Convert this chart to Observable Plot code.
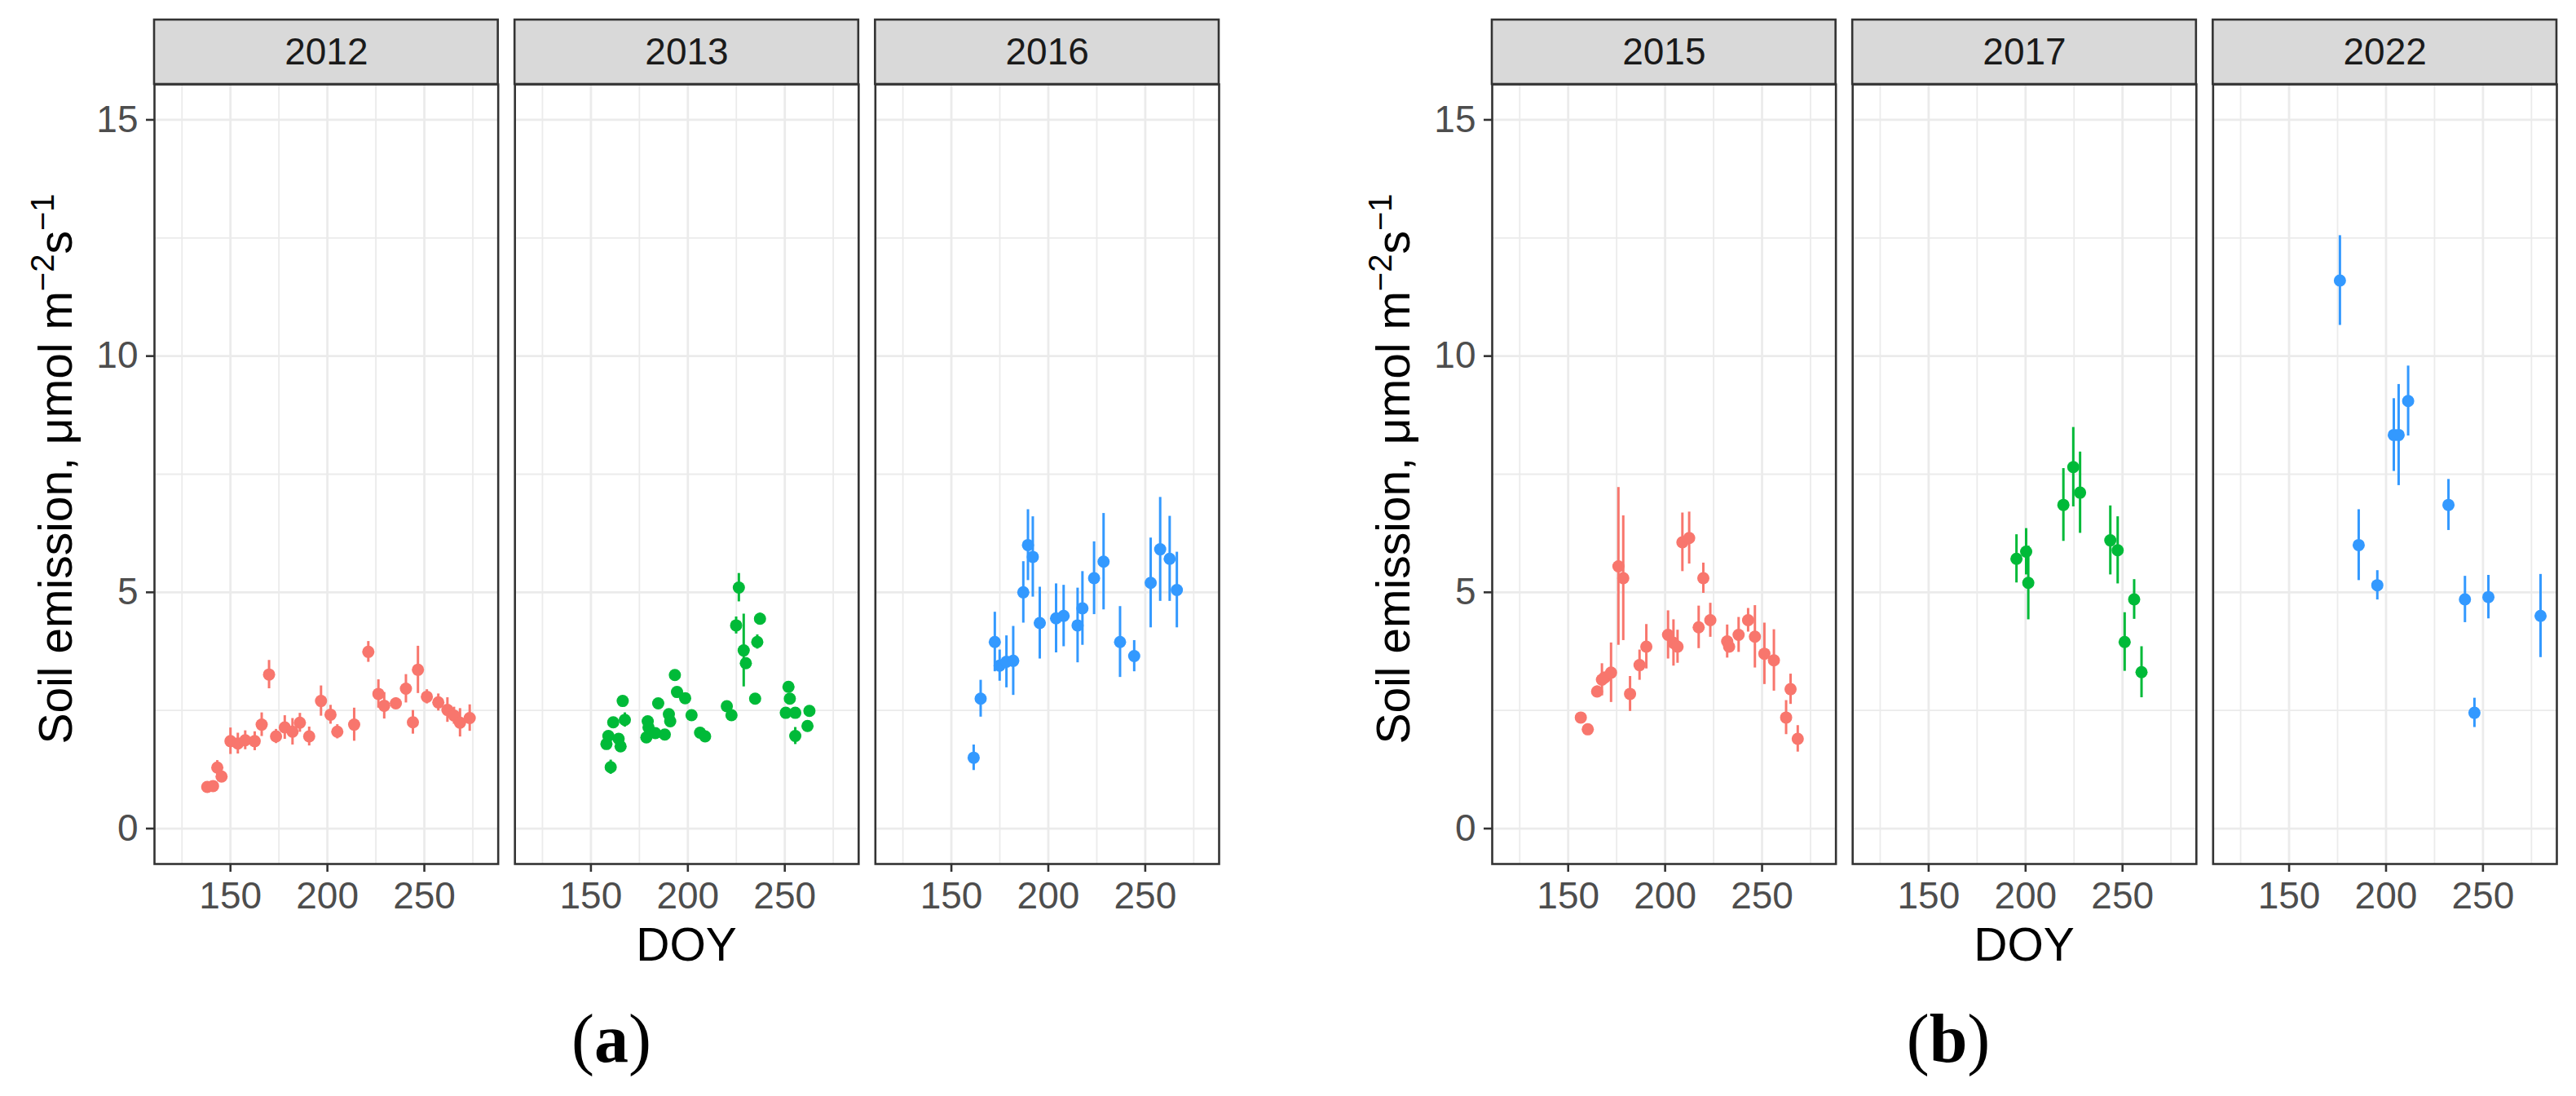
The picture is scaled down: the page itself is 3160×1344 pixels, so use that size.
<!DOCTYPE html>
<html>
<head>
<meta charset="utf-8">
<script src="https://cdn.jsdelivr.net/npm/d3@7"></script>
<script src="https://cdn.jsdelivr.net/npm/@observablehq/plot@0.6"></script>
<style>
html, body { margin: 0; padding: 0; background: #ffffff; }
#root { position: relative; width: 3160px; height: 1344px; overflow: hidden; background: #ffffff; }
#root svg { position: absolute; top: 0; }
</style>
</head>
<body>
<div id="root"></div>
<script>
// ---------- data ----------
const yearsA = ["2012", "2013", "2016"];
const yearsB = ["2015", "2017", "2022"];
const panelColors = ["#F8766D", "#00BA38", "#3399FF"];

const xTicks = [150, 200, 250];
const xMinorTicks = [125, 175, 225, 275];
const yTicks = [0, 5, 10, 15];
const yMinorTicks = [2.5, 7.5, 12.5];

const doy2012  = [138, 141, 143.2, 145.4, 150, 153.8, 157.6, 162.5, 166.1, 169.9, 173.5, 178, 182, 185.8, 190.6, 196.7, 201.6, 205.1, 213.8, 221.1, 226.3, 229.3, 235.3, 240.5, 244.1, 246.7, 251.3, 257.2, 261.9, 265.3, 268.4, 273.4];
const flux2012 = [0.88, 0.90, 1.29, 1.10, 1.85, 1.80, 1.87, 1.85, 2.20, 3.26, 1.95, 2.14, 2.05, 2.24, 1.95, 2.70, 2.41, 2.05, 2.20, 3.74, 2.85, 2.60, 2.65, 2.96, 2.25, 3.36, 2.79, 2.67, 2.51, 2.39, 2.24, 2.34];
const err2012  = [0.06, 0.06, 0.15, 0.12, 0.28, 0.22, 0.20, 0.20, 0.25, 0.30, 0.15, 0.25, 0.28, 0.20, 0.20, 0.32, 0.20, 0.15, 0.35, 0.22, 0.30, 0.28, 0.12, 0.30, 0.25, 0.50, 0.15, 0.18, 0.26, 0.18, 0.30, 0.28];

const doy2013  = [158.0, 159.0, 160.2, 161.5, 164.3, 165.3, 166.4, 167.5, 178.6, 179.3, 179.7, 183.2, 184.7, 188.1, 190.2, 190.9, 193.3, 194.4, 198.6, 201.9, 206.3, 208.9, 220.1, 222.5, 224.9, 226.3, 228.8, 229.9, 234.7, 235.8, 237.2, 250.5, 251.9, 252.6, 255.4, 255.4, 261.7, 262.7];
const flux2013 = [1.79, 1.96, 1.30, 2.25, 1.90, 1.74, 2.70, 2.30, 1.93, 2.27, 2.14, 2.02, 2.65, 1.99, 2.42, 2.27, 3.25, 2.89, 2.76, 2.40, 2.03, 1.95, 2.59, 2.40, 4.30, 5.10, 3.77, 3.50, 2.75, 3.95, 4.44, 2.45, 3.00, 2.75, 2.45, 1.96, 2.17, 2.49];
const err2013  = [0.10, 0.10, 0.15, 0.10, 0.10, 0.10, 0.10, 0.15, 0.10, 0.10, 0.10, 0.10, 0.10, 0.10, 0.10, 0.10, 0.10, 0.10, 0.10, 0.10, 0.10, 0.10, 0.10, 0.10, 0.18, 0.30, 0.77, 0.10, 0.10, 0.15, 0.12, 0.10, 0.10, 0.10, 0.10, 0.18, 0.10, 0.10];

const doy2016  = [161.5, 165.1, 172.4, 174.9, 178.4, 181.9, 187.1, 189.5, 192.0, 195.6, 204.0, 207.9, 215.1, 217.6, 223.6, 228.5, 237.0, 244.3, 252.8, 257.7, 262.6, 266.3];
const flux2016 = [1.50, 2.75, 3.95, 3.45, 3.53, 3.55, 5.00, 6.00, 5.75, 4.35, 4.45, 4.50, 4.30, 4.66, 5.30, 5.65, 3.95, 3.65, 5.20, 5.91, 5.71, 5.05];
const err2016  = [0.27, 0.39, 0.63, 0.33, 0.55, 0.73, 0.65, 0.75, 0.85, 0.76, 0.73, 0.65, 0.79, 0.78, 0.77, 1.02, 0.75, 0.33, 0.95, 1.10, 0.90, 0.80];

const doy2015  = [156.5, 160.1, 164.9, 167.4, 168.9, 172.1, 175.9, 178.4, 181.9, 186.8, 190.3, 201.5, 204.3, 206.4, 208.9, 212.4, 217.3, 219.7, 223.3, 232.0, 233.0, 237.9, 242.8, 246.3, 251.2, 256.1, 262.4, 264.7, 268.4];
const flux2015 = [2.35, 2.10, 2.90, 3.15, 3.20, 3.30, 5.55, 5.30, 2.85, 3.46, 3.85, 4.10, 3.93, 3.85, 6.06, 6.15, 4.26, 5.30, 4.41, 3.96, 3.85, 4.10, 4.41, 4.06, 3.70, 3.56, 2.35, 2.95, 1.90];
const err2015  = [0.06, 0.06, 0.12, 0.34, 0.10, 0.63, 1.67, 1.32, 0.37, 0.32, 0.47, 0.51, 0.49, 0.35, 0.62, 0.55, 0.45, 0.32, 0.36, 0.35, 0.12, 0.37, 0.25, 0.66, 0.65, 0.65, 0.36, 0.32, 0.28];

const doy2017  = [195.3, 200.3, 201.4, 219.5, 224.6, 228.1, 243.7, 247.5, 251.1, 256.0, 259.8];
const flux2017 = [5.71, 5.86, 5.20, 6.85, 7.65, 7.11, 6.10, 5.89, 3.95, 4.85, 3.31];
const err2017  = [0.51, 0.49, 0.78, 0.77, 0.84, 0.86, 0.73, 0.71, 0.62, 0.42, 0.54];

const doy2022  = [176.2, 185.9, 195.5, 204.0, 206.5, 211.4, 232.2, 240.7, 245.6, 252.8, 279.7];
const flux2022 = [11.60, 6.00, 5.15, 8.33, 8.33, 9.05, 6.85, 4.85, 2.45, 4.90, 4.50];
const err2022  = [0.95, 0.75, 0.31, 0.77, 1.07, 0.74, 0.54, 0.49, 0.31, 0.46, 0.88];

// ---------- layout / style ----------
const W = 1580, H = 1344;
const X_DOMAIN = [110.8, 288.1];
const Y_DOMAIN = [-0.75, 15.75];
const PANEL_TOP = 103, PANEL_BOTTOM = 1059, STRIP_TOP = 24;
const PX_PER_UNIT = (PANEL_BOTTOM - PANEL_TOP) / (Y_DOMAIN[1] - Y_DOMAIN[0]);
const STRIP_Y2 = Y_DOMAIN[1] + (PANEL_TOP - STRIP_TOP) / PX_PER_UNIT;
const GRID = "#EBEBEB", FRAME = "#333333", TICKTXT = "#4D4D4D";
const SANS = "'Liberation Sans', Arial, Helvetica, sans-serif";
const SERIF = "'Liberation Serif', 'Times New Roman', serif";

function buildRows(years, series) {
  const rows = [];
  years.forEach((yr, i) => {
    const s = series[i];
    s.doy.forEach((d, j) => {
      rows.push({year: yr, doy: d, flux: s.flux[j], lo: s.flux[j] - s.err[j], hi: s.flux[j] + s.err[j]});
    });
  });
  return rows;
}

function makeFigure({years, series, marginLeft, marginRight, tag, tagX, left}) {
  const rows = buildRows(years, series);
  const strips = years.map(y => ({year: y}));
  const out = Plot.plot({
    width: W, height: H,
    marginTop: PANEL_TOP, marginBottom: H - PANEL_BOTTOM,
    marginLeft, marginRight,
    style: {fontFamily: SANS, background: "transparent", overflow: "visible"},
    fx: {domain: years, paddingInner: 0.0464, paddingOuter: 0, axis: null, round: false, label: null},
    x: {domain: X_DOMAIN, label: null},
    y: {domain: Y_DOMAIN, label: null},
    color: {type: "ordinal", domain: years, range: panelColors},
    marks: [
      Plot.gridY(yMinorTicks, {stroke: GRID, strokeOpacity: 1, strokeWidth: 1.8}),
      Plot.gridX(xMinorTicks, {stroke: GRID, strokeOpacity: 1, strokeWidth: 1.8}),
      Plot.gridY(yTicks, {stroke: GRID, strokeOpacity: 1, strokeWidth: 2.8}),
      Plot.gridX(xTicks, {stroke: GRID, strokeOpacity: 1, strokeWidth: 2.8}),
      Plot.ruleX(rows, {fx: "year", x: "doy", y1: "lo", y2: "hi", stroke: "year", strokeWidth: 3}),
      Plot.dot(rows, {fx: "year", x: "doy", y: "flux", fill: "year", r: 7.5}),
      Plot.frame({stroke: FRAME, strokeWidth: 2.6}),
      Plot.rect(strips, {fx: "year", x1: () => X_DOMAIN[0], x2: () => X_DOMAIN[1], y1: () => Y_DOMAIN[1], y2: () => STRIP_Y2,
        fill: "#D9D9D9", stroke: FRAME, strokeWidth: 2.6}),
      Plot.text(strips, {fx: "year", text: "year", frameAnchor: "top", lineAnchor: "middle", dy: -(PANEL_TOP - STRIP_TOP) / 2, fontSize: 46, fill: "#1A1A1A"}),
      Plot.axisX(xTicks, {tickSize: 10, tickPadding: 12, fontSize: 46, color: FRAME, stroke: FRAME, fill: TICKTXT, strokeWidth: 2.6, label: null, tickFormat: d => String(d)}),
      Plot.axisY(yTicks, {tickSize: 10, tickPadding: 10, fontSize: 46, color: FRAME, stroke: FRAME, fill: TICKTXT, strokeWidth: 2.6, label: null, tickFormat: d => String(d)})
    ]
  });
  const svg = out.tagName.toLowerCase() === "svg" ? out : out.querySelector("svg");
  const sel = d3.select(svg);

  // y-axis title with superscripts
  const yl = sel.append("text")
    .attr("transform", `translate(${marginLeft - 101},575) rotate(-90)`)
    .attr("text-anchor", "middle")
    .attr("font-family", SANS)
    .attr("font-size", 57)
    .attr("fill", "#000000");
  yl.append("tspan").text("Soil emission, \u03BCmol m");
  yl.append("tspan").attr("dy", -22).attr("font-size", 40).text("\u22122");
  yl.append("tspan").attr("dy", 22).text("s");
  yl.append("tspan").attr("dy", -22).attr("font-size", 40).text("\u22121");

  // x-axis title
  sel.append("text")
    .attr("x", (marginLeft + (W - marginRight)) / 2)
    .attr("y", 1178)
    .attr("text-anchor", "middle")
    .attr("font-family", SANS)
    .attr("font-size", 57)
    .attr("fill", "#000000")
    .text("DOY");

  // panel tag (a)/(b)
  const tg = sel.append("text")
    .attr("x", tagX)
    .attr("y", 1302)
    .attr("text-anchor", "middle")
    .attr("font-family", SERIF)
    .attr("font-size", 84)
    .attr("fill", "#000000");
  tg.append("tspan").text("(");
  tg.append("tspan").attr("font-weight", "bold").text(tag);
  tg.append("tspan").text(")");

  svg.style.left = left + "px";
  return svg;
}

const root = document.getElementById("root");
root.appendChild(makeFigure({
  years: yearsA,
  series: [
    {doy: doy2012, flux: flux2012, err: err2012},
    {doy: doy2013, flux: flux2013, err: err2013},
    {doy: doy2016, flux: flux2016, err: err2016}
  ],
  marginLeft: 189, marginRight: W - 1495, tag: "a", tagX: 750, left: 0
}));
root.appendChild(makeFigure({
  years: yearsB,
  series: [
    {doy: doy2015, flux: flux2015, err: err2015},
    {doy: doy2017, flux: flux2017, err: err2017},
    {doy: doy2022, flux: flux2022, err: err2022}
  ],
  marginLeft: 1830 - W, marginRight: 3160 - 3136, tag: "b", tagX: 2390 - W, left: W
}));
</script>
</body>
</html>
